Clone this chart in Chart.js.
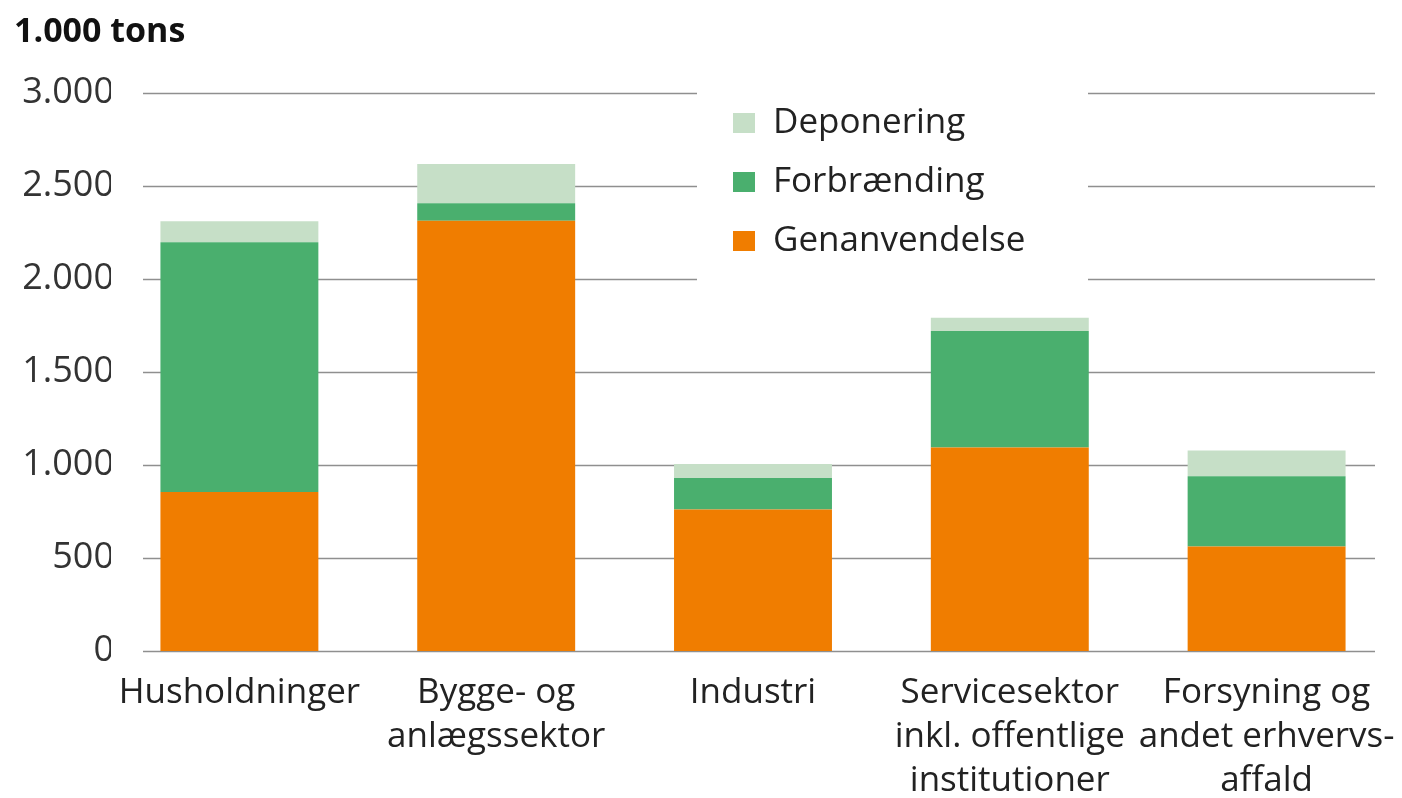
<!DOCTYPE html>
<html>
<head>
<meta charset="utf-8">
<script src="https://cdn.jsdelivr.net/npm/chart.js@4/dist/chart.umd.min.js"></script>
<style>
  html, body { margin: 0; padding: 0; background: #fff; }
  #wrap { width: 1402px; height: 798px; }
</style>
</head>
<body>
<div id="wrap"><canvas id="chart"></canvas></div>
<script>
// data (1.000 tons)
const categories = [
  'Husholdninger',
  ['Bygge- og', 'anlægssektor'],
  'Industri',
  ['Servicesektor', 'inkl. offentlige', 'institutioner'],
  ['Forsyning og', 'andet erhvervs-', 'affald']
];
const genanvendelse = [855, 2313, 760, 1094, 562];
const forbraending = [1342, 94, 170, 626, 377];
const deponering = [112, 211, 75, 71, 138];
const yTicks = [0, 500, 1000, 1500, 2000, 2500, 3000];

const FONT = "'Open Sans', 'Noto Sans', sans-serif";

// grid lines + legend box drawn behind the bars
const backdrop = {
  id: 'backdrop',
  beforeDatasetsDraw(chart) {
    const ctx = chart.ctx;
    const area = chart.chartArea;
    const y = chart.scales.y;
    ctx.save();
    ctx.strokeStyle = '#8f8f8f';
    ctx.lineWidth = 1.5;
    yTicks.forEach(v => {
      const py = Math.round(y.getPixelForValue(v)) + 0.5;
      ctx.beginPath();
      ctx.moveTo(area.left + 32, py);
      ctx.lineTo(area.right - 20, py);
      ctx.stroke();
    });

    // legend sits on a white box that hides the grid
    ctx.fillStyle = '#fff';
    ctx.fillRect(697, 78, 391, 212);
    const items = chart.data.datasets.slice().reverse();
    ctx.font = '35px ' + FONT;
    ctx.textBaseline = 'middle';
    items.forEach((ds, i) => {
      const cy = 123 + i * 59;
      ctx.fillStyle = ds.backgroundColor;
      ctx.fillRect(733, cy - 10, 22, 20);
      ctx.fillStyle = '#222';
      ctx.fillText(ds.label, 773, cy);
    });
    ctx.restore();
  }
};

new Chart(document.getElementById('chart'), {
  type: 'bar',
  data: {
    labels: categories,
    datasets: [
      { label: 'Genanvendelse', data: genanvendelse, backgroundColor: '#f07d00' },
      { label: 'Forbrænding', data: forbraending, backgroundColor: '#4aaf6e' },
      { label: 'Deponering', data: deponering, backgroundColor: '#c6dfc7' }
    ]
  },
  options: {
    responsive: true,
    maintainAspectRatio: false,
    animation: false,
    layout: { padding: { left: 14, right: 7, top: 0, bottom: 0 } },
    datasets: {
      bar: { barPercentage: 0.615, categoryPercentage: 1 }
    },
    plugins: {
      legend: { display: false },
      tooltip: { enabled: false },
      title: {
        display: true,
        text: '1.000 tons',
        align: 'start',
        color: '#111',
        font: { family: FONT, size: 34, weight: 'bold', lineHeight: 1.2 },
        padding: { top: 12, bottom: 40 }
      }
    },
    scales: {
      x: {
        stacked: true,
        grid: { display: false, drawTicks: false },
        border: { display: false },
        ticks: {
          color: '#222',
          padding: 20,
          maxRotation: 0,
          autoSkip: false,
          font: { family: FONT, size: 35, lineHeight: 1.26 }
        },
        afterFit(scale) {
          scale.height = 147;
          scale.paddingLeft = 0;
          scale.paddingRight = 0;
        }
      },
      y: {
        stacked: true,
        min: 0,
        max: 3000,
        afterBuildTicks(scale) { scale.ticks = yTicks.map(v => ({ value: v })); },
        grid: { display: false, drawTicks: false },
        border: { display: false },
        ticks: {
          color: '#333',
          padding: -3,
          font: { family: FONT, size: 36 },
          callback: v => v.toLocaleString('da-DK')
        },
        afterFit(scale) { scale.width = 97; }
      }
    }
  },
  plugins: [backdrop]
});
</script>
</body>
</html>
